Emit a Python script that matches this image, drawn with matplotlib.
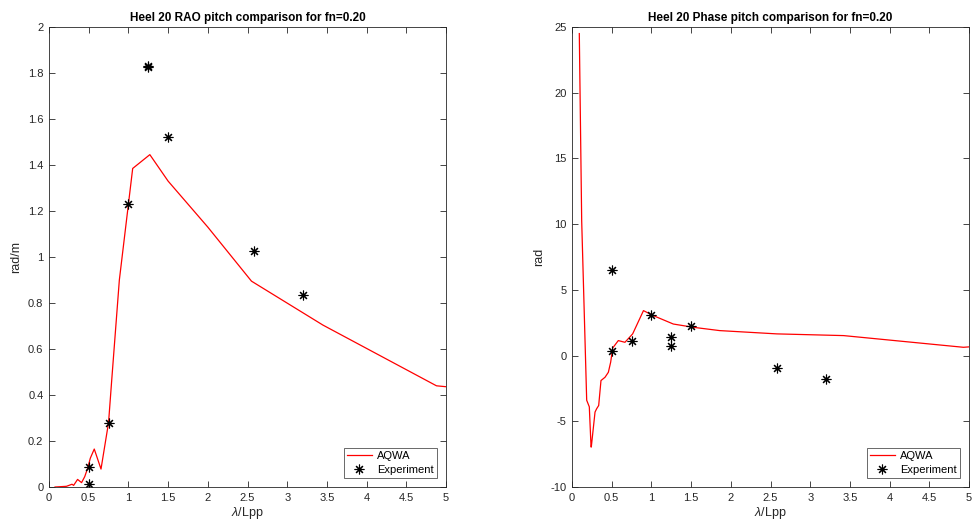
import matplotlib
matplotlib.use("Agg")
import matplotlib.pyplot as plt

plt.rcParams['font.family'] = ['Liberation Sans', 'DejaVu Sans']
plt.rcParams['mathtext.fontset'] = 'custom'
plt.rcParams['mathtext.it'] = 'Liberation Sans:italic'
plt.rcParams['mathtext.rm'] = 'Liberation Sans'
plt.rcParams['axes.unicode_minus'] = False

# AQWA pitch RAO (rad/m) vs wavelength ratio
rao_x = [0.076, 0.22, 0.29, 0.31, 0.36, 0.41, 0.45, 0.49, 0.52, 0.57, 0.655,
         0.75, 0.79, 0.886, 1.054, 1.27, 1.5, 2.0, 2.55, 3.45, 4.88, 5.0]
rao_y = [0.0, 0.003, 0.012, 0.007, 0.033, 0.019, 0.045, 0.085, 0.125, 0.165, 0.078,
         0.28, 0.465, 0.90, 1.385, 1.445, 1.33, 1.13, 0.895, 0.704, 0.44, 0.436]

# AQWA pitch phase (rad) vs wavelength ratio
ph_x = [0.092, 0.122, 0.185, 0.218, 0.24, 0.243, 0.29, 0.31, 0.336, 0.365, 0.416,
        0.458, 0.487, 0.513, 0.583, 0.667, 0.764, 0.9, 1.024, 1.276, 1.53, 1.86,
        2.58, 3.42, 4.93, 5.04]
ph_y = [24.5, 10.25, -3.4, -3.9, -6.96, -6.96, -4.3, -4.05, -3.8, -1.9, -1.65,
        -1.27, -0.5, 0.58, 1.14, 1.01, 1.65, 3.42, 3.04, 2.4, 2.15, 1.9,
        1.65, 1.52, 0.63, 0.68]

# Experimental measurements
exp_x = [0.5, 0.5, 0.75, 1.0, 1.25, 1.25, 1.5, 2.585, 3.2]
exp_rao = [0.085, 0.015, 0.28, 1.23, 1.83, 1.825, 1.52, 1.027, 0.835]
exp_phase = [0.33, 6.5, 1.14, 3.08, 1.42, 0.76, 2.28, -0.93, -1.82]

fig = plt.figure(figsize=(9.73, 5.27), dpi=100)
ax1 = fig.add_axes([49/973, 40/527, 397/973, 460/527])
ax2 = fig.add_axes([572/973, 40/527, 397/973, 460/527])

asterisk = (8, 2, 0)
axcol = '#262626'

def style(ax):
    ax.set_xlim(0, 5)
    ax.set_xticks([0, 0.5, 1, 1.5, 2, 2.5, 3, 3.5, 4, 4.5, 5])
    ax.set_xticklabels(['0', '0.5', '1', '1.5', '2', '2.5', '3', '3.5', '4', '4.5', '5'])
    ax.tick_params(direction='in', top=True, right=True, labelsize=8,
                   colors=axcol, length=4, width=0.6, pad=4)
    for s in ax.spines.values():
        s.set_color(axcol)
        s.set_linewidth(0.6)
    ax.set_xlabel(r'$\lambda$/Lpp', fontsize=9, color=axcol, labelpad=2)

def add_legend(ax):
    leg = ax.legend(loc='lower right', fontsize=8, frameon=True, fancybox=False,
                    edgecolor=axcol, borderpad=0.3, handlelength=2.2,
                    handletextpad=0.5, labelspacing=0.35, borderaxespad=0.8)
    leg.get_frame().set_linewidth(0.6)

ax1.plot(rao_x, rao_y, color='red', lw=0.9, label='AQWA')
ax1.plot(exp_x, exp_rao, linestyle='none', marker=asterisk, color='black',
         markersize=7, mew=0.8, label='Experiment')
style(ax1)
ax1.set_ylim(0, 2)
ax1.set_yticks([0, 0.2, 0.4, 0.6, 0.8, 1, 1.2, 1.4, 1.6, 1.8, 2])
ax1.set_yticklabels(['0', '0.2', '0.4', '0.6', '0.8', '1', '1.2', '1.4', '1.6', '1.8', '2'])
ax1.set_ylabel('rad/m', fontsize=9, color=axcol, labelpad=4)
ax1.set_title('Heel 20 RAO pitch comparison for fn=0.20', fontsize=8.5,
              fontweight='bold', pad=4)
add_legend(ax1)

ax2.plot(ph_x, ph_y, color='red', lw=0.9, label='AQWA')
ax2.plot(exp_x, exp_phase, linestyle='none', marker=asterisk, color='black',
         markersize=7, mew=0.8, label='Experiment')
style(ax2)
ax2.set_ylim(-10, 25)
ax2.set_yticks([-10, -5, 0, 5, 10, 15, 20, 25])
ax2.set_ylabel('rad', fontsize=9, color=axcol, labelpad=4)
ax2.set_title('Heel 20 Phase pitch comparison for fn=0.20', fontsize=8.5,
              fontweight='bold', pad=4)
add_legend(ax2)

fig.savefig('out.png', dpi=100)
